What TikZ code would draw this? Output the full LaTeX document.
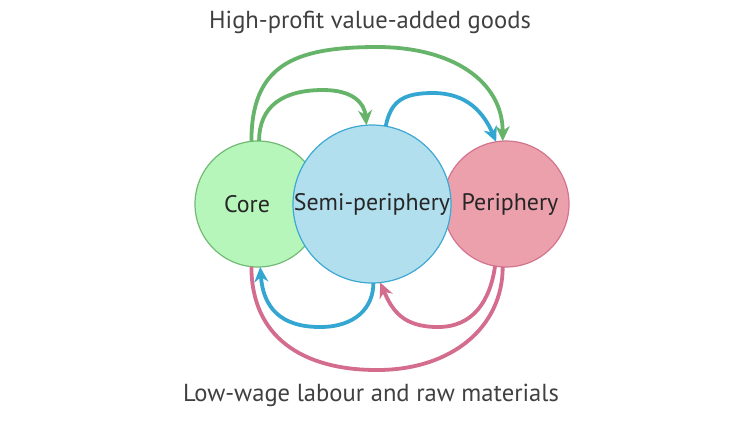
\documentclass[tikz,border=0pt]{standalone}
\usepackage{fontspec}
\setmainfont{PT Sans}
\usetikzlibrary{arrows.meta}

\definecolor{coreFill}{HTML}{B6F6BA}
\definecolor{coreLine}{HTML}{72BA75}
\definecolor{semiFill}{HTML}{B1DFEE}
\definecolor{semiLine}{HTML}{3DA8D2}
\definecolor{periFill}{HTML}{ECA0AC}
\definecolor{periLine}{HTML}{D2748E}
\definecolor{gArrow}{HTML}{66B36A}
\definecolor{bArrow}{HTML}{34A6D2}
\definecolor{pArrow}{HTML}{D46C8D}

\begin{document}
\begin{tikzpicture}[x=0.1mm, y=-0.1mm, >={Stealth[length=1.5mm,width=1.4mm]},
  zone/.style={circle,draw,line width=0.12mm,inner sep=0pt,outer sep=0pt},
  zonetext/.style={text=black!85,font=\fontsize{6.8}{8}\selectfont},
  flow/.style={line width=0.38mm},
  caption/.style={text=black!75,font=\fontsize{7}{8}\selectfont}]
\useasboundingbox (0,0) rectangle (750,423);
\node[zone, fill=coreFill, draw=coreLine, minimum size=12.6mm] (core) at (258,204) {};
\node[zonetext] (corelbl) at (247,204) {Core};
\node[zone, fill=periFill, draw=periLine, minimum size=12.6mm] (peri) at (506,204) {};
\node[zonetext] (perilbl) at (510,204) {Periphery};
\node[zone, zonetext, fill=semiFill, draw=semiLine, minimum size=15.8mm] (semi) at (372,204) {Semi-periphery};
\node[caption] (hi) at (370,22) {High-profit value-added goods};
\node[caption] (lo) at (371,395) {Low-wage labour and raw materials};
\coordinate (gtop) at (377,47);
\coordinate (gmid) at (323,90);
\coordinate (btop) at (433,93);
\coordinate (bbot) at (320,327);
\coordinate (pbot) at (438,327);
\coordinate (plow) at (377,370);
\draw[flow, gArrow, ->] (core.96) .. controls +(0,-75) and +(-85,0) .. (gtop) .. controls +(75,0) and +(0,-60) .. (peri.93);
\draw[flow, gArrow, ->] (core.89) .. controls +(0,-35) and +(-40,0) .. (gmid) .. controls +(30,0) and +(-2,-22) .. (semi.94);
\draw[flow, bArrow, ->] (semi.80) .. controls +(5,-25) and +(-30,0) .. (btop) .. controls +(35,0) and +(-12,-28) .. (peri.99);
\draw[flow, bArrow, ->] (semi.271) .. controls +(0,25) and +(35,0) .. (bbot) .. controls +(-40,0) and +(3,40) .. (core.272);
\draw[flow, pArrow, ->] (peri.260) .. controls +(-5,35) and +(35,0) .. (pbot) .. controls +(-35,0) and +(12,28) .. (semi.276);
\draw[flow, pArrow] (core.264) .. controls +(0,70) and +(-75,0) .. (plow) .. controls +(75,0) and +(0,60) .. (peri.267);
\end{tikzpicture}
\end{document}
